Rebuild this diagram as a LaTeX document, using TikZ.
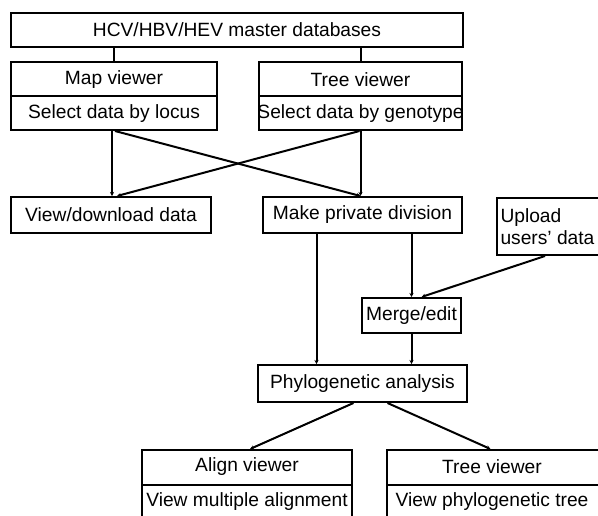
\documentclass[tikz,border=0pt]{standalone}
\usepackage{fontspec}
\setmainfont{Liberation Sans}
\usetikzlibrary{arrows.meta,calc}
\begin{document}
\begin{tikzpicture}[x=1pt,y=-1pt, line width=2pt,
  box/.style={draw, rectangle, inner sep=0pt},
  txt/.style={inner sep=0pt, font=\fontsize{19.2}{22}\selectfont},
  conn/.style={-{Stealth[length=4pt,width=4pt]}},
  plain/.style={},
  divider/.style={line width=1.2pt}]
\useasboundingbox (0,0) rectangle (598,515);
\clip (0,0) rectangle (598,515);

% boxes
\node[box, minimum width=452pt, minimum height=34pt] (top) at (237,30) {};
\node[txt] (toptxt) at (237,30) {HCV/HBV/HEV master databases};

\node[box, minimum width=206pt, minimum height=68pt] (map) at (114,96) {};
\node[txt] (maptitle) at (114,80) {Map viewer};
\node[txt] (mapsel) at (114,114) {Select data by locus};
\draw[divider] (map.west) -- (map.east);

\node[box, minimum width=203pt, minimum height=68pt] (tree1) at (360.5,96) {};
\node[txt] (tree1title) at (360.5,80) {Tree viewer};
\node[txt] (tree1sel) at (360.5,114) {Select data by genotype};
\draw[divider] (tree1.west) -- (tree1.east);

\node[box, minimum width=200pt, minimum height=36pt] (view) at (111,215) {};
\node[txt] (viewtxt) at (111,215) {View/download data};

\node[box, minimum width=199pt, minimum height=36pt] (make) at (362.5,215) {};
\node[txt] (maketxt) at (362.5,215) {Make private division};

\node[box, minimum width=104pt, minimum height=57pt] (upload) at (549,226.5) {};
\node[txt, anchor=west, align=left] (uploadtxt) at (499.5,226.5) {Upload\\users’ data};

\node[box, minimum width=99pt, minimum height=35pt] (merge) at (411.5,315.5) {};
\node[txt] (mergetxt) at (411.5,315.5) {Merge/edit};

\node[box, minimum width=209pt, minimum height=37pt] (phylo) at (362.5,383.5) {};
\node[txt] (phylotxt) at (362.5,383.5) {Phylogenetic analysis};

\node[box, minimum width=210pt, minimum height=70pt] (align) at (247,485) {};
\node[txt] (aligntitle) at (247,467) {Align viewer};
\node[txt] (alignsub) at (247,502) {View multiple alignment};
\draw[divider] (align.west) -- (align.east);

\node[box, minimum width=215pt, minimum height=70pt] (tree2) at (494.5,485) {};
\node[txt] (tree2title) at (492,467) {Tree viewer};
\node[txt] (tree2sub) at (492,502) {View phylogenetic tree};
\draw[divider] (tree2.west) -- (tree2.east);

% connectors
\draw[plain] (top.south -| map.north) -- (map.north);
\draw[plain] (top.south -| tree1.north) -- (tree1.north);
\draw[conn] ([xshift=-2pt]map.south) -- ([xshift=-2pt]map.south |- view.north);
\draw[conn] ([xshift=1pt]map.south) -- ([xshift=-2pt]make.north);
\draw[conn] (tree1.south) -- (tree1.south |- make.north);
\draw[conn] ([xshift=-1pt]tree1.south) -- ([xshift=6pt]view.north);
\draw[conn] (make.south -| merge.north) -- (merge.north);
\draw[conn] ([xshift=-46pt]make.south) -- ([xshift=-46pt]make.south |- phylo.north);
\draw[conn] ([xshift=-4pt]upload.south) -- ([xshift=10pt]merge.north);
\draw[conn] (merge.south) -- (merge.south |- phylo.north);
\draw[conn] ([xshift=-9pt]phylo.south) -- ([xshift=3pt]align.north);
\draw[conn] ([xshift=25pt]phylo.south) -- ([xshift=-4pt]tree2.north);
\end{tikzpicture}
\end{document}
